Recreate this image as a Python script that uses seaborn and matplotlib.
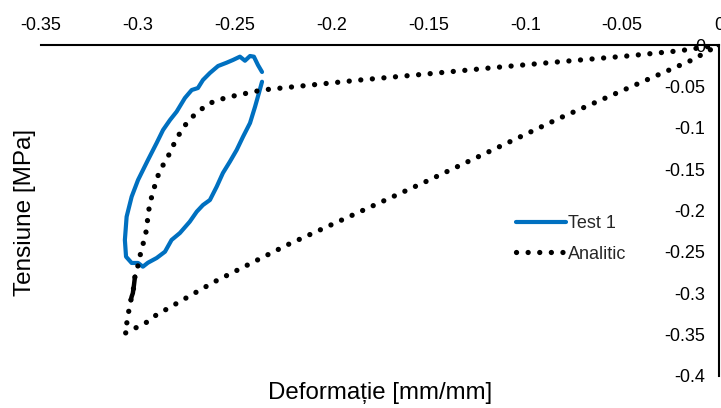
import numpy as np
import pandas as pd
import matplotlib
matplotlib.use("Agg")
import matplotlib.pyplot as plt
import seaborn as sns

# Test 1: measured stress-strain loop
test_strain = [-0.2359, -0.2380, -0.2401, -0.2421, -0.2447, -0.2473, -0.2509, -0.2542,
               -0.2586, -0.2628, -0.2664, -0.2690, -0.2722, -0.2757, -0.2800, -0.2834,
               -0.2870, -0.2903, -0.2948, -0.2999, -0.3032, -0.3058, -0.3067, -0.3061,
               -0.3032, -0.2999, -0.2974, -0.2948, -0.2903, -0.2860, -0.2826, -0.2783,
               -0.2732, -0.2696, -0.2664, -0.2628, -0.2593, -0.2561, -0.2525, -0.2490,
               -0.2457, -0.2421, -0.2395, -0.2375, -0.2359]
test_stress = [-0.0326, -0.0242, -0.0141, -0.0133, -0.0190, -0.0141, -0.0181, -0.0214,
               -0.0254, -0.0338, -0.0423, -0.0520, -0.0544, -0.0640, -0.0806, -0.0906,
               -0.1027, -0.1184, -0.1390, -0.1631, -0.1833, -0.2075, -0.2356, -0.2558,
               -0.2634, -0.2634, -0.2679, -0.2631, -0.2574, -0.2498, -0.2356, -0.2272,
               -0.2135, -0.2014, -0.1934, -0.1873, -0.1712, -0.1547, -0.1410, -0.1269,
               -0.1108, -0.0943, -0.0746, -0.0580, -0.0444]

# Analitic: loading branch, then unloading branch back to the origin
model_strain = [0.0, -0.0201, -0.0475, -0.0821, -0.1167, -0.1508, -0.1853, -0.2359,
                -0.2524, -0.2586, -0.2638, -0.2690, -0.2731, -0.2767, -0.2798, -0.2824,
                -0.2850, -0.2886, -0.2907, -0.2922, -0.2937, -0.2948, -0.2953, -0.2963,
                -0.2979, -0.2994, -0.3005, -0.3015, -0.3020, -0.3026, -0.3032, -0.3036,
                -0.3046, -0.3056, -0.3067,
                -0.2958, -0.2922, -0.2814, -0.2709, -0.2607, -0.2230, -0.1518, -0.0821,
                -0.0139, 0.0]
model_stress = [0.0, -0.0069, -0.0133, -0.0202, -0.0274, -0.0350, -0.0423, -0.0544,
                -0.0625, -0.0665, -0.0713, -0.0810, -0.0894, -0.1003, -0.1124, -0.1245,
                -0.1378, -0.1511, -0.1656, -0.1776, -0.1909, -0.2054, -0.2199, -0.2320,
                -0.2453, -0.2598, -0.2731, -0.2800, -0.2900, -0.3000, -0.3040, -0.3082,
                -0.3202, -0.3347, -0.3484,
                -0.3356, -0.3287, -0.3142, -0.3001, -0.2864, -0.2417, -0.1656, -0.0882,
                -0.0181, 0.0]
# densely sampled stretch of the analytic curve (indices into the arrays above)
dense_start, dense_end = 27, 31

x_ticks = [-0.35, -0.3, -0.25, -0.2, -0.15, -0.1, -0.05, 0]
y_ticks = [0, -0.05, -0.1, -0.15, -0.2, -0.25, -0.3, -0.35, -0.4]

sns.set_theme(style="white")
plt.rcParams["font.family"] = ["Liberation Sans", "DejaVu Sans"]

fig = plt.figure(figsize=(7.21, 4.08), dpi=100)
ax = fig.add_axes([41 / 721, 1 - 376 / 408, 678 / 721, 331 / 408])

blue = "#0070C0"
test_df = pd.DataFrame({"strain": test_strain, "stress": test_stress})
model_df = pd.DataFrame({"strain": model_strain, "stress": model_stress})

sns.lineplot(data=test_df, x="strain", y="stress", sort=False, estimator=None,
             color=blue, lw=3.0, ax=ax, label="Test 1",
             solid_capstyle="round", solid_joinstyle="round")
sns.lineplot(data=model_df, x="strain", y="stress", sort=False, estimator=None,
             color="black", lw=3.8, ax=ax, label="Analitic",
             dashes=False, linestyle=(0, (0.01, 2.19)), dash_capstyle="round")
dense = model_df.iloc[dense_start:dense_end + 1]
ax.plot(dense["strain"], dense["stress"], color="black", lw=3.2,
        solid_capstyle="round")

ax.set_xlim(-0.35, 0)
ax.set_ylim(-0.4, 0)
ax.set_xticks(x_ticks)
ax.set_xticklabels([f"{v:g}" for v in x_ticks])
ax.set_yticks(y_ticks)
ax.set_yticklabels([f"{v:g}" for v in y_ticks])

# axes cross at the origin: x axis along the top, y axis on the right
for side in ["bottom", "right"]:
    ax.spines[side].set_visible(False)
ax.spines["left"].set_position(("data", 0))
for side in ["top", "left"]:
    ax.spines[side].set_color("black")
    ax.spines[side].set_linewidth(1.5)
ax.xaxis.tick_top()
ax.tick_params(axis="x", length=0, pad=8, labelsize=13, colors="black")
ax.tick_params(axis="y", length=0, pad=10, labelsize=13, colors="black")
ax.grid(False)

ax.set_xlabel("")
ax.set_ylabel("")
fig.text(380 / 721, 1 - 393 / 408, "Deformație [mm/mm]", ha="center", va="center",
         fontsize=17.3, color="black")
fig.text(25 / 721, 1 - 212 / 408, "Tensiune [MPa]", ha="center", va="center",
         rotation=90, fontsize=17.5, color="black")

ax.legend(loc="upper left", bbox_to_anchor=(516 / 721, 1 - 215 / 408),
          bbox_transform=fig.transFigure, frameon=False, fontsize=13,
          handlelength=2.75, handletextpad=0.15, labelspacing=0.75,
          borderpad=0, borderaxespad=0)

fig.savefig("out.png", dpi=100)
